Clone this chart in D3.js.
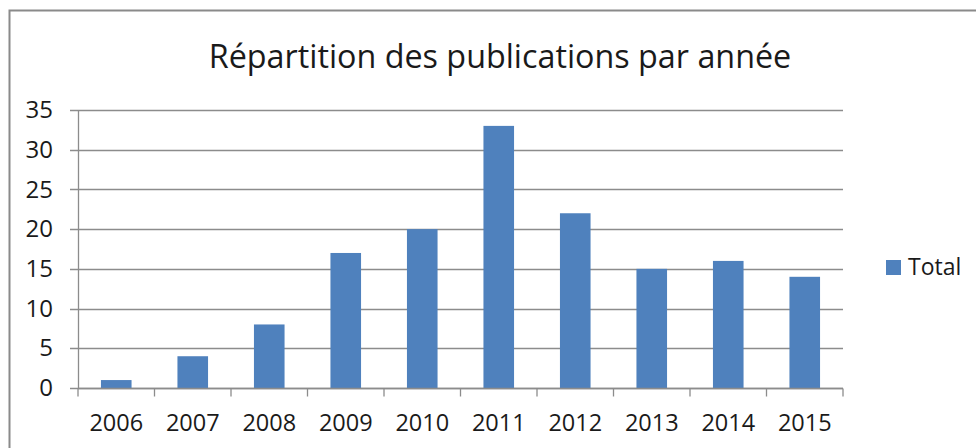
<!DOCTYPE html>
<html>
<head>
<meta charset="utf-8">
<script src="https://cdn.jsdelivr.net/npm/d3@7"></script>
<style>
  body { margin: 0; background: #fff; }
  text { font-family: "Open Sans", "Noto Sans", sans-serif; fill: #1a1a1a; }
</style>
</head>
<body>
<div id="chartContainer"></div>
<script>
// Chart data
const years = ["2006", "2007", "2008", "2009", "2010", "2011", "2012", "2013", "2014", "2015"];
const totals = [1, 4, 8, 17, 20, 33, 22, 15, 16, 14];
const yTicks = [0, 5, 10, 15, 20, 25, 30, 35];
const seriesName = "Total";
const title = "Répartition des publications par année";

const width = 976;
const height = 448;
const margin = { top: 110, right: 133, bottom: 60, left: 78 };
const barColor = "#4f81bd";
const gridColor = "#8c8c8c";

const svg = d3.select("#chartContainer")
  .append("svg")
  .attr("width", width)
  .attr("height", height);

// Outer frame (right and bottom edges fall outside the picture)
svg.append("rect")
  .attr("x", 9.5)
  .attr("y", 10.5)
  .attr("width", width + 20)
  .attr("height", height + 20)
  .attr("fill", "none")
  .attr("stroke", "#8a8a8a")
  .attr("stroke-width", 2);

// Title
svg.append("text")
  .attr("x", 500)
  .attr("y", 68)
  .attr("text-anchor", "middle")
  .style("font-size", "32.3px")
  .text(title);

// Scales
const x = d3.scaleBand()
  .domain(years)
  .range([margin.left, width - margin.right])
  .padding(0);

const y = d3.scaleLinear()
  .domain([0, 35])
  .range([height - margin.bottom, margin.top]);

const barWidth = x.bandwidth() / 2.5; // Excel gap width 150%

// Gridlines
svg.append("g")
  .selectAll("line")
  .data(yTicks)
  .enter()
  .append("line")
  .attr("x1", margin.left - 8)
  .attr("x2", width - margin.right)
  .attr("y1", d => Math.round(y(d)) + 0.5)
  .attr("y2", d => Math.round(y(d)) + 0.5)
  .attr("stroke", gridColor)
  .attr("stroke-width", 1.3);

// Y axis
const yAxis = svg.append("g")
  .attr("transform", `translate(${margin.left}, 0)`)
  .call(d3.axisLeft(y).tickValues(yTicks).tickSize(0).tickPadding(25));
yAxis.select(".domain").attr("stroke", gridColor).attr("stroke-width", 1.3);
yAxis.selectAll("text").style("font-size", "24px").attr("fill", "#1a1a1a").attr("font-family", null);

// Bars
svg.selectAll(".bar")
  .data(totals)
  .enter()
  .append("rect")
  .attr("class", "bar")
  .attr("x", (d, i) => x(years[i]) + (x.bandwidth() - barWidth) / 2)
  .attr("y", d => y(d))
  .attr("width", barWidth)
  .attr("height", d => y(0) - y(d))
  .attr("fill", barColor);

// X axis with ticks at band boundaries
const xAxis = svg.append("g")
  .attr("transform", `translate(0, ${Math.round(y(0)) + 0.5})`);
xAxis.append("line")
  .attr("x1", margin.left)
  .attr("x2", width - margin.right)
  .attr("stroke", gridColor)
  .attr("stroke-width", 1.3);
xAxis.selectAll(".tick")
  .data(years.concat(["end"]))
  .enter()
  .append("line")
  .attr("x1", (d, i) => margin.left + i * x.step())
  .attr("x2", (d, i) => margin.left + i * x.step())
  .attr("y1", 0)
  .attr("y2", 8)
  .attr("stroke", gridColor)
  .attr("stroke-width", 1.3);
xAxis.selectAll(".label")
  .data(years)
  .enter()
  .append("text")
  .attr("x", d => x(d) + x.bandwidth() / 2)
  .attr("y", 42)
  .attr("text-anchor", "middle")
  .style("font-size", "23.5px")
  .text(d => d);

// Legend
const legend = svg.append("g").attr("transform", "translate(886, 260)");
legend.append("rect")
  .attr("width", 15)
  .attr("height", 15)
  .attr("fill", barColor);
legend.append("text")
  .attr("x", 22)
  .attr("y", 15)
  .style("font-size", "23px")
  .text(seriesName);
</script>
</body>
</html>
